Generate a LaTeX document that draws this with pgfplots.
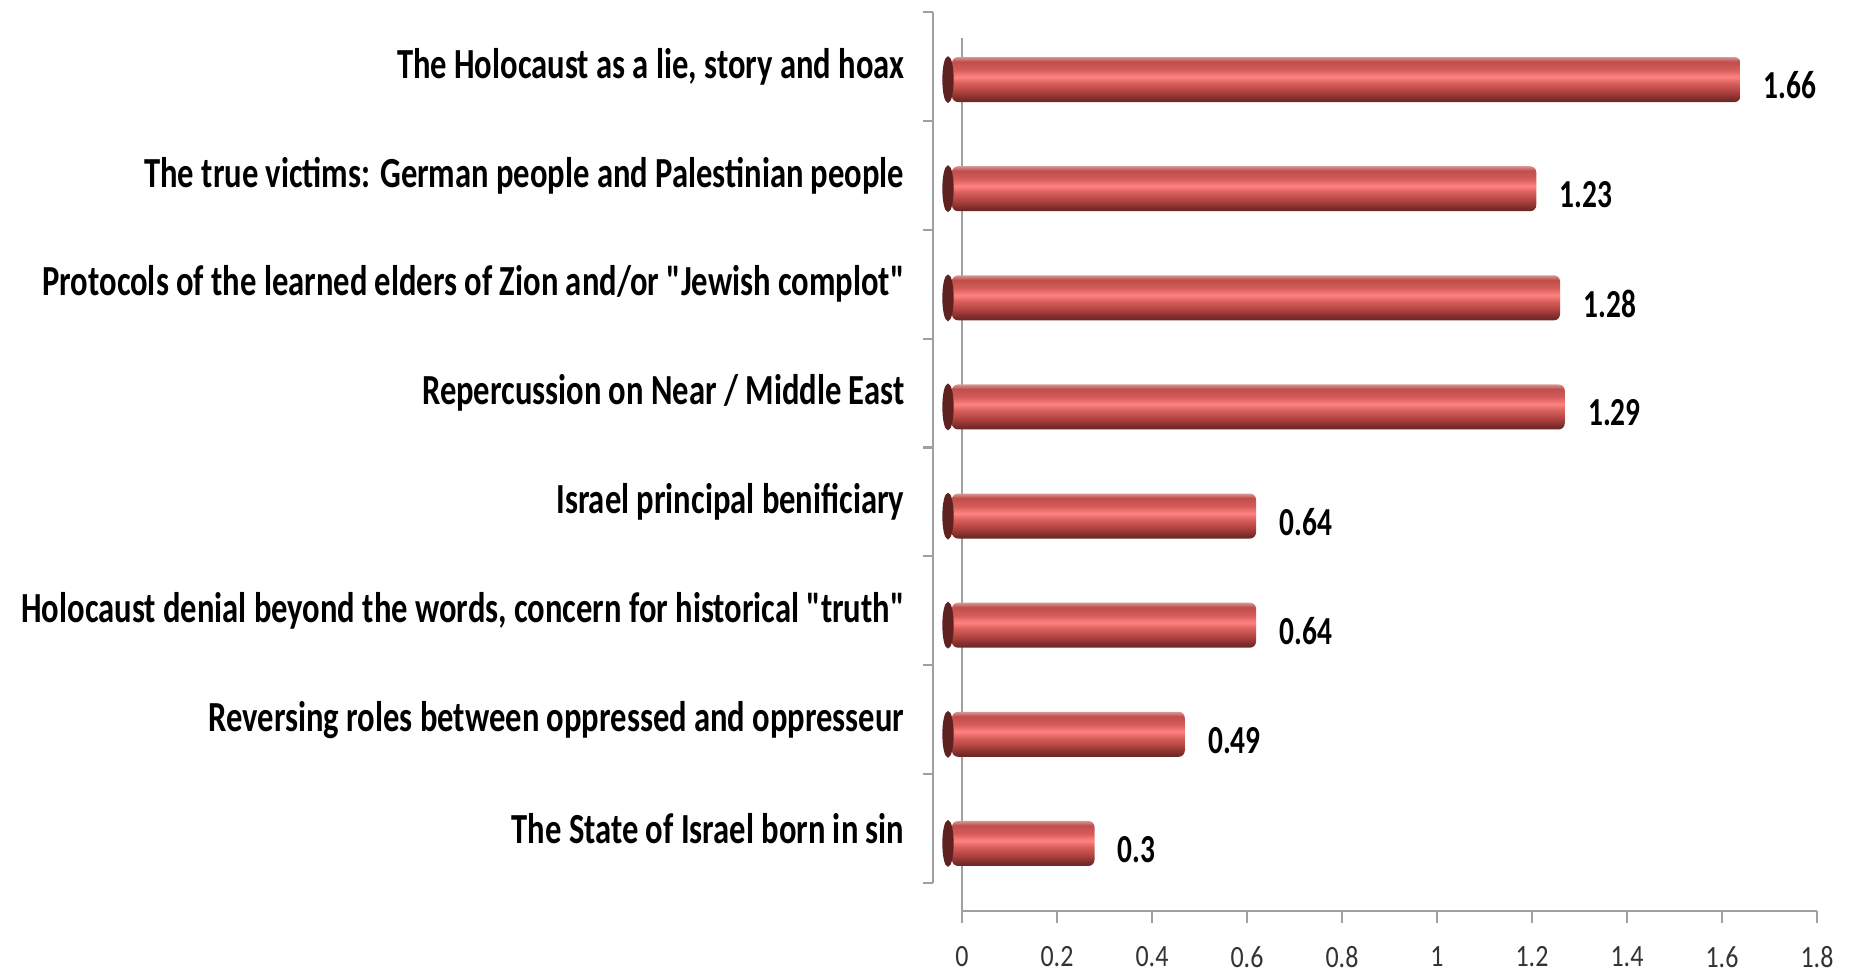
\documentclass[border=0pt]{standalone}
\usepackage{pgfplots}
\pgfplotsset{compat=1.18}
\usepackage{fontspec}
\setmainfont{Carlito}
\newfontfamily\labfont[FakeStretch=0.76]{Carlito}
\newfontfamily\valfont[FakeStretch=0.74]{Carlito}
\newfontfamily\tickfont[FakeStretch=0.84]{Carlito}
\definecolor{axgray}{RGB}{160,160,160}
\definecolor{capcol}{RGB}{95,34,32}
\pgfdeclareverticalshading{cylbar}{100bp}{%
  color(0bp)=(rgb,255:red,105;green,38;blue,36);
  color(25bp)=(rgb,255:red,105;green,38;blue,36);
  color(29bp)=(rgb,255:red,125;green,45;blue,43);
  color(37.5bp)=(rgb,255:red,180;green,68;blue,65);
  color(46bp)=(rgb,255:red,215;green,95;blue,92);
  color(53bp)=(rgb,255:red,255;green,130;blue,128);
  color(61bp)=(rgb,255:red,212;green,92;blue,90);
  color(70bp)=(rgb,255:red,192;green,78;blue,75);
  color(75bp)=(rgb,255:red,215;green,150;blue,148);
  color(100bp)=(rgb,255:red,215;green,150;blue,148)}
\begin{document}
\begin{tikzpicture}
\path[use as bounding box] (0,0) rectangle (18.49cm,9.72cm);
\pgfplotsset{cyl/.style={xbar, bar width=4.5mm, bar shift=0pt, draw=none,
  shade, shading=cylbar, rounded corners=0.6mm,
  xshift=-1.0mm, yshift=1.3mm,
  nodes near coords, point meta=explicit symbolic,
  nodes near coords style={font=\valfont\bfseries\fontsize{11.3}{13}\selectfont, text=black, anchor=west, xshift=1.1mm, yshift=-0.6mm}}}
% back plane axis: values
\begin{axis}[
  at={(9.62cm,0.61cm)}, anchor=south west,
  width=8.55cm, height=8.73cm, scale only axis,
  xmin=0, xmax=1.8, ymin=-0.5, ymax=7.5, y dir=reverse,
  clip=false,
  axis lines*=left,
  axis line style={draw=axgray, line width=0.6pt},
  xtick={0,0.2,...,1.8},
  xticklabels={0,0.2,0.4,0.6,0.8,1,1.2,1.4,1.6,1.8},
  tick align=outside,
  xtick style={draw=axgray, line width=0.6pt},
  major tick length=1.2mm,
  ytick=\empty,
  xticklabel style={font=\tickfont\fontsize{8.8}{10}\selectfont, text=black!80, anchor=center, yshift=-3.4mm},
  /pgf/number format/assume math mode=true,
]
\addplot[cyl] coordinates {(1.66,0)[1.66]};
\addplot[cyl] coordinates {(1.23,1)[1.23]};
\addplot[cyl] coordinates {(1.28,2)[1.28]};
\addplot[cyl] coordinates {(1.29,3)[1.29]};
\addplot[cyl] coordinates {(0.64,4)[0.64]};
\addplot[cyl] coordinates {(0.64,5)[0.64]};
\addplot[cyl] coordinates {(0.49,6)[0.49]};
\addplot[cyl] coordinates {(0.3,7)[0.3]};
\addplot[only marks, mark=*, mark size=2.25mm, color=capcol, mark options={xscale=0.22, fill=capcol, draw=capcol},
  xshift=-1.4mm, yshift=1.3mm]
  coordinates {(0,0) (0,1) (0,2) (0,3) (0,4) (0,5) (0,6) (0,7)};
\end{axis}
% front plane axis: categories
\begin{axis}[
  at={(9.33cm,0.89cm)}, anchor=south west,
  width=8.55cm, height=8.71cm, scale only axis,
  xmin=0, xmax=1.8, ymin=-0.5, ymax=7.5, y dir=reverse,
  axis x line=none,
  axis y line*=left,
  axis line style={draw=axgray, line width=0.6pt},
  ytick={0,...,7},
  yticklabels={{The Holocaust as a lie, story and hoax},
    {The true victims: German people and Palestinian people},
    {Protocols of the learned elders of Zion and/or "Jewish complot"},
    {Repercussion on Near / Middle East},
    {Israel principal benificiary},
    {Holocaust denial beyond the words, concern for historical "truth"},
    {Reversing roles between oppressed and oppresseur},
    {The State of Israel born in sin}},
  major tick length=0pt,
  minor ytick={-0.5,0.5,...,7.5},
  minor tick length=1mm,
  tick align=outside,
  minor y tick style={draw=axgray, line width=0.6pt},
  yticklabel style={font=\labfont\bfseries\fontsize{12.2}{14}\selectfont, text=black, anchor=east, inner sep=0pt, xshift=-2.8mm},
]
\end{axis}
\end{tikzpicture}
\end{document}
